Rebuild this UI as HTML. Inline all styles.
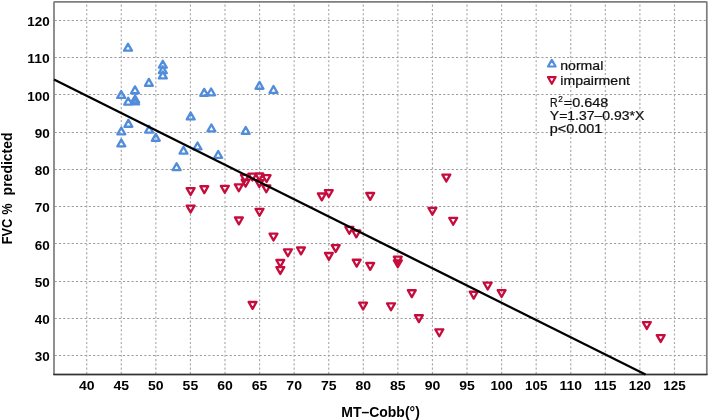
<!DOCTYPE html>
<html><head><meta charset="utf-8"><style>
html,body{margin:0;padding:0;background:#fff;}
body{width:709px;height:420px;overflow:hidden;font-family:"Liberation Sans",sans-serif;}
svg{display:block;will-change:transform;}
</style></head><body>
<svg width="709" height="420" viewBox="0 0 709 420">
<rect width="709" height="420" fill="#fff"/>
<g stroke="#9a9a9a" stroke-width="1" stroke-dasharray="2.1 2.17" stroke-dashoffset="-0.65" fill="none"><line x1="54.0" y1="355.50" x2="706.8" y2="355.50"/><line x1="54.0" y1="318.50" x2="706.8" y2="318.50"/><line x1="54.0" y1="281.50" x2="706.8" y2="281.50"/><line x1="54.0" y1="243.50" x2="706.8" y2="243.50"/><line x1="54.0" y1="206.50" x2="706.8" y2="206.50"/><line x1="54.0" y1="169.50" x2="706.8" y2="169.50"/><line x1="54.0" y1="132.50" x2="706.8" y2="132.50"/><line x1="54.0" y1="94.50" x2="706.8" y2="94.50"/><line x1="54.0" y1="57.50" x2="706.8" y2="57.50"/><line x1="54.0" y1="20.50" x2="706.8" y2="20.50"/></g>
<g stroke="#a8a8a8" stroke-width="1.15" stroke-dasharray="2.1 2.17" stroke-dashoffset="-2.72" fill="none"><line x1="86.70" y1="1.9" x2="86.70" y2="374.5"/><line x1="121.28" y1="1.9" x2="121.28" y2="374.5"/><line x1="155.85" y1="1.9" x2="155.85" y2="374.5"/><line x1="190.43" y1="1.9" x2="190.43" y2="374.5"/><line x1="225.00" y1="1.9" x2="225.00" y2="374.5"/><line x1="259.57" y1="1.9" x2="259.57" y2="374.5"/><line x1="294.15" y1="1.9" x2="294.15" y2="374.5"/><line x1="328.73" y1="1.9" x2="328.73" y2="374.5"/><line x1="363.30" y1="1.9" x2="363.30" y2="374.5"/><line x1="397.88" y1="1.9" x2="397.88" y2="374.5"/><line x1="432.45" y1="1.9" x2="432.45" y2="374.5"/><line x1="467.02" y1="1.9" x2="467.02" y2="374.5"/><line x1="501.60" y1="1.9" x2="501.60" y2="374.5"/><line x1="536.18" y1="1.9" x2="536.18" y2="374.5"/><line x1="570.75" y1="1.9" x2="570.75" y2="374.5"/><line x1="605.33" y1="1.9" x2="605.33" y2="374.5"/><line x1="639.90" y1="1.9" x2="639.90" y2="374.5"/><line x1="674.48" y1="1.9" x2="674.48" y2="374.5"/></g>
<rect x="54.0" y="1.9" width="652.80" height="372.60" fill="none" stroke="#7d7d7d" stroke-width="1.7" rx="0.5"/>
<line x1="53.15" y1="374.5" x2="707.65" y2="374.5" stroke="#333" stroke-width="1.6"/>
<path fill="none" stroke="#528ddb" stroke-width="2.35" stroke-linejoin="round" d="M128.00 43.83L131.93 50.67L124.08 50.67Z M162.80 60.78L166.73 67.62L158.88 67.62Z M162.80 66.28L166.73 73.12L158.88 73.12Z M162.80 71.58L166.73 78.42L158.88 78.42Z M148.90 78.88L152.83 85.72L144.97 85.72Z M135.00 86.38L138.93 93.22L131.07 93.22Z M121.20 91.08L125.12 97.92L117.28 97.92Z M128.20 97.78L132.12 104.62L124.27 104.62Z M135.10 95.58L139.03 102.42L131.17 102.42Z M135.10 97.58L139.03 104.42L131.17 104.42Z M204.20 88.88L208.12 95.72L200.27 95.72Z M211.10 88.48L215.03 95.33L207.17 95.33Z M259.50 81.88L263.43 88.72L255.57 88.72Z M273.50 85.98L277.43 92.83L269.57 92.83Z M190.70 112.58L194.62 119.42L186.77 119.42Z M128.40 119.88L132.33 126.72L124.48 126.72Z M121.30 127.48L125.22 134.33L117.38 134.33Z M149.10 125.77L153.03 132.62L145.17 132.62Z M155.80 133.88L159.73 140.73L151.88 140.73Z M121.30 139.47L125.22 146.33L117.38 146.33Z M211.40 124.48L215.33 131.33L207.47 131.33Z M245.70 126.98L249.62 133.83L241.77 133.83Z M183.50 146.77L187.43 153.62L179.57 153.62Z M197.50 142.47L201.43 149.33L193.57 149.33Z M218.20 150.97L222.12 157.83L214.27 157.83Z M176.60 163.27L180.53 170.12L172.67 170.12Z"/>
<path fill="none" stroke="#c60c3c" stroke-width="2.35" stroke-linejoin="round" d="M190.60 194.93L194.53 188.07L186.67 188.07Z M204.30 193.12L208.23 186.27L200.38 186.27Z M224.80 192.73L228.73 185.88L220.88 185.88Z M190.60 212.43L194.53 205.57L186.67 205.57Z M238.80 191.23L242.73 184.38L234.88 184.38Z M245.60 186.62L249.53 179.77L241.67 179.77Z M244.90 181.73L248.83 174.88L240.97 174.88Z M252.40 180.53L256.32 173.67L248.47 173.67Z M259.30 180.33L263.23 173.47L255.38 173.47Z M266.60 182.03L270.53 175.17L262.68 175.17Z M259.30 187.03L263.23 180.17L255.38 180.17Z M266.30 192.23L270.23 185.38L262.38 185.38Z M238.90 224.33L242.83 217.47L234.97 217.47Z M259.50 215.73L263.43 208.88L255.57 208.88Z M273.50 240.53L277.43 233.67L269.57 233.67Z M287.90 256.23L291.82 249.38L283.97 249.38Z M301.00 254.33L304.93 247.47L297.07 247.47Z M280.30 266.82L284.23 259.97L276.38 259.97Z M280.30 273.93L284.23 267.07L276.38 267.07Z M252.60 308.82L256.52 301.97L248.67 301.97Z M321.80 200.33L325.73 193.47L317.88 193.47Z M328.80 197.03L332.73 190.17L324.88 190.17Z M370.20 199.83L374.12 192.97L366.27 192.97Z M349.30 233.73L353.23 226.88L345.38 226.88Z M356.30 237.33L360.23 230.47L352.38 230.47Z M335.70 251.93L339.62 245.07L331.77 245.07Z M328.90 259.82L332.82 252.97L324.97 252.97Z M356.70 266.62L360.62 259.77L352.77 259.77Z M370.20 269.82L374.12 262.97L366.27 262.97Z M363.10 309.53L367.03 302.68L359.18 302.68Z M391.00 310.23L394.93 303.38L387.07 303.38Z M411.80 297.12L415.73 290.27L407.88 290.27Z M418.90 322.12L422.82 315.27L414.97 315.27Z M397.80 263.53L401.73 256.68L393.88 256.68Z M397.80 267.23L401.73 260.38L393.88 260.38Z M446.30 181.43L450.23 174.57L442.38 174.57Z M432.40 214.73L436.32 207.88L428.47 207.88Z M453.20 224.73L457.12 217.88L449.27 217.88Z M439.30 336.23L443.23 329.38L435.38 329.38Z M473.70 298.62L477.62 291.77L469.77 291.77Z M487.70 289.53L491.62 282.68L483.77 282.68Z M501.60 297.03L505.53 290.18L497.68 290.18Z M646.80 328.93L650.72 322.07L642.88 322.07Z M660.70 341.93L664.62 335.07L656.78 335.07Z"/>
<line x1="54" y1="79.5" x2="645.5" y2="374.5" stroke="#000" stroke-width="2.3"/>
<path fill="none" stroke="#528ddb" stroke-width="2.2" stroke-linejoin="round" d="M551.80 59.90L555.60 66.50L548.00 66.50Z"/>
<path fill="none" stroke="#c60c3c" stroke-width="2.2" stroke-linejoin="round" d="M551.80 83.75L555.65 77.05L547.95 77.05Z"/>
<g fill="#000"><text x="49.7" y="361.36" text-anchor="end" font-size="12" font-family="Liberation Sans, sans-serif" font-weight="bold" textLength="15.0" lengthAdjust="spacingAndGlyphs">30</text><text x="49.7" y="324.12" text-anchor="end" font-size="12" font-family="Liberation Sans, sans-serif" font-weight="bold" textLength="15.0" lengthAdjust="spacingAndGlyphs">40</text><text x="49.7" y="286.88" text-anchor="end" font-size="12" font-family="Liberation Sans, sans-serif" font-weight="bold" textLength="15.0" lengthAdjust="spacingAndGlyphs">50</text><text x="49.7" y="249.64" text-anchor="end" font-size="12" font-family="Liberation Sans, sans-serif" font-weight="bold" textLength="15.0" lengthAdjust="spacingAndGlyphs">60</text><text x="49.7" y="212.40" text-anchor="end" font-size="12" font-family="Liberation Sans, sans-serif" font-weight="bold" textLength="15.0" lengthAdjust="spacingAndGlyphs">70</text><text x="49.7" y="175.16" text-anchor="end" font-size="12" font-family="Liberation Sans, sans-serif" font-weight="bold" textLength="15.0" lengthAdjust="spacingAndGlyphs">80</text><text x="49.7" y="137.92" text-anchor="end" font-size="12" font-family="Liberation Sans, sans-serif" font-weight="bold" textLength="15.0" lengthAdjust="spacingAndGlyphs">90</text><text x="49.7" y="100.68" text-anchor="end" font-size="12" font-family="Liberation Sans, sans-serif" font-weight="bold" textLength="22.4" lengthAdjust="spacingAndGlyphs">100</text><text x="49.7" y="63.44" text-anchor="end" font-size="12" font-family="Liberation Sans, sans-serif" font-weight="bold" textLength="22.4" lengthAdjust="spacingAndGlyphs">110</text><text x="49.7" y="26.20" text-anchor="end" font-size="12" font-family="Liberation Sans, sans-serif" font-weight="bold" textLength="22.4" lengthAdjust="spacingAndGlyphs">120</text><text x="86.70" y="390.3" text-anchor="middle" font-size="12" font-family="Liberation Sans, sans-serif" font-weight="bold" textLength="15.6" lengthAdjust="spacingAndGlyphs">40</text><text x="121.28" y="390.3" text-anchor="middle" font-size="12" font-family="Liberation Sans, sans-serif" font-weight="bold" textLength="15.6" lengthAdjust="spacingAndGlyphs">45</text><text x="155.85" y="390.3" text-anchor="middle" font-size="12" font-family="Liberation Sans, sans-serif" font-weight="bold" textLength="15.6" lengthAdjust="spacingAndGlyphs">50</text><text x="190.43" y="390.3" text-anchor="middle" font-size="12" font-family="Liberation Sans, sans-serif" font-weight="bold" textLength="15.6" lengthAdjust="spacingAndGlyphs">55</text><text x="225.00" y="390.3" text-anchor="middle" font-size="12" font-family="Liberation Sans, sans-serif" font-weight="bold" textLength="15.6" lengthAdjust="spacingAndGlyphs">60</text><text x="259.57" y="390.3" text-anchor="middle" font-size="12" font-family="Liberation Sans, sans-serif" font-weight="bold" textLength="15.6" lengthAdjust="spacingAndGlyphs">65</text><text x="294.15" y="390.3" text-anchor="middle" font-size="12" font-family="Liberation Sans, sans-serif" font-weight="bold" textLength="15.6" lengthAdjust="spacingAndGlyphs">70</text><text x="328.73" y="390.3" text-anchor="middle" font-size="12" font-family="Liberation Sans, sans-serif" font-weight="bold" textLength="15.6" lengthAdjust="spacingAndGlyphs">75</text><text x="363.30" y="390.3" text-anchor="middle" font-size="12" font-family="Liberation Sans, sans-serif" font-weight="bold" textLength="15.6" lengthAdjust="spacingAndGlyphs">80</text><text x="397.88" y="390.3" text-anchor="middle" font-size="12" font-family="Liberation Sans, sans-serif" font-weight="bold" textLength="15.6" lengthAdjust="spacingAndGlyphs">85</text><text x="432.45" y="390.3" text-anchor="middle" font-size="12" font-family="Liberation Sans, sans-serif" font-weight="bold" textLength="15.6" lengthAdjust="spacingAndGlyphs">90</text><text x="467.02" y="390.3" text-anchor="middle" font-size="12" font-family="Liberation Sans, sans-serif" font-weight="bold" textLength="15.6" lengthAdjust="spacingAndGlyphs">95</text><text x="501.60" y="390.3" text-anchor="middle" font-size="12" font-family="Liberation Sans, sans-serif" font-weight="bold" textLength="22.4" lengthAdjust="spacingAndGlyphs">100</text><text x="536.18" y="390.3" text-anchor="middle" font-size="12" font-family="Liberation Sans, sans-serif" font-weight="bold" textLength="22.4" lengthAdjust="spacingAndGlyphs">105</text><text x="570.75" y="390.3" text-anchor="middle" font-size="12" font-family="Liberation Sans, sans-serif" font-weight="bold" textLength="22.4" lengthAdjust="spacingAndGlyphs">110</text><text x="605.33" y="390.3" text-anchor="middle" font-size="12" font-family="Liberation Sans, sans-serif" font-weight="bold" textLength="22.4" lengthAdjust="spacingAndGlyphs">115</text><text x="639.90" y="390.3" text-anchor="middle" font-size="12" font-family="Liberation Sans, sans-serif" font-weight="bold" textLength="22.4" lengthAdjust="spacingAndGlyphs">120</text><text x="674.48" y="390.3" text-anchor="middle" font-size="12" font-family="Liberation Sans, sans-serif" font-weight="bold" textLength="22.4" lengthAdjust="spacingAndGlyphs">125</text><text x="341.3" y="416.6" font-size="14.2" font-family="Liberation Sans, sans-serif" font-weight="bold" textLength="78.5" lengthAdjust="spacingAndGlyphs">MT–Cobb(°)</text><text transform="translate(11.9,0) rotate(-90)" x="-244.3" y="0" font-size="14.2" font-family="Liberation Sans, sans-serif" font-weight="bold" textLength="25.6" lengthAdjust="spacingAndGlyphs">FVC</text><text transform="translate(11.9,0) rotate(-90)" x="-214.4" y="0" font-size="14.2" font-family="Liberation Sans, sans-serif" font-weight="bold" textLength="11.0" lengthAdjust="spacingAndGlyphs">%</text><text transform="translate(11.9,0) rotate(-90)" x="-195.4" y="0" font-size="14.2" font-family="Liberation Sans, sans-serif" font-weight="bold" textLength="63.0" lengthAdjust="spacingAndGlyphs">predicted</text><text x="560.3" y="70.1" font-size="12.2" font-family="Liberation Sans, sans-serif" stroke="#111" stroke-width="0.22" fill="#111" textLength="43" lengthAdjust="spacingAndGlyphs">normal</text><text x="560.3" y="84.8" font-size="12.2" font-family="Liberation Sans, sans-serif" stroke="#111" stroke-width="0.22" fill="#111" textLength="69.6" lengthAdjust="spacingAndGlyphs">impairment</text><text x="549.9" y="106.8" font-size="12.6" font-family="Liberation Sans, sans-serif" stroke="#111" stroke-width="0.22" fill="#111" textLength="7.6" lengthAdjust="spacingAndGlyphs">R</text><text x="558.2" y="101.5" font-size="8.2" font-family="Liberation Sans, sans-serif" stroke="#111" stroke-width="0.22" fill="#111">2</text><text x="563.8" y="106.8" font-size="12.3" font-family="Liberation Sans, sans-serif" stroke="#111" stroke-width="0.22" fill="#111" textLength="44.6" lengthAdjust="spacingAndGlyphs">=0.648</text><text x="549.8" y="119.8" font-size="12.3" font-family="Liberation Sans, sans-serif" stroke="#111" stroke-width="0.22" fill="#111" textLength="94.5" lengthAdjust="spacingAndGlyphs">Y=1.37–0.93*X</text><text x="549.8" y="132.7" font-size="12.3" font-family="Liberation Sans, sans-serif" stroke="#111" stroke-width="0.22" fill="#111" textLength="52.5" lengthAdjust="spacingAndGlyphs">p&lt;0.001</text></g>
</svg>
</body></html>
